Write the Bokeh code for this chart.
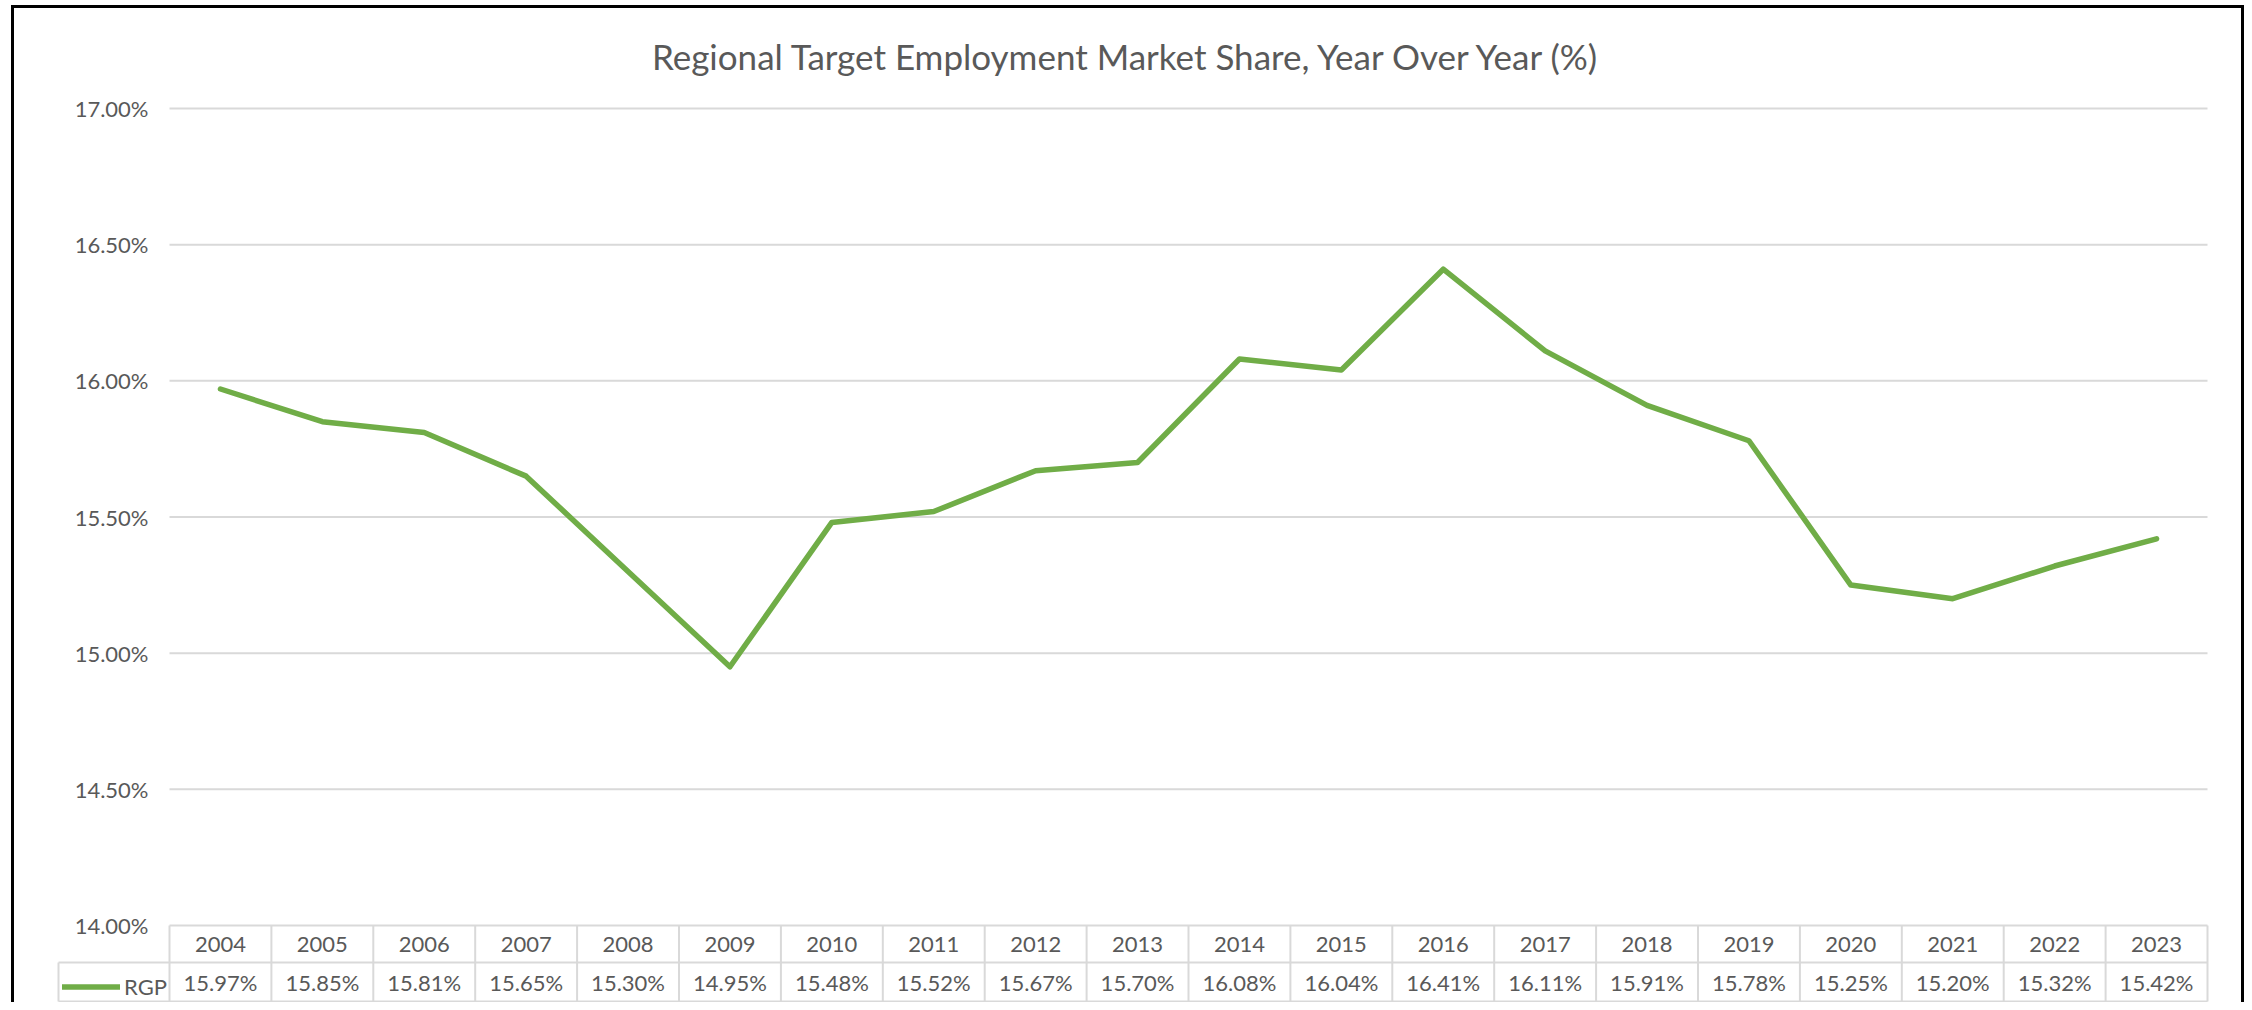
from bokeh.plotting import figure
from bokeh.models import (Range1d, FixedTicker, PrintfTickFormatter, Legend, LegendItem,
                          ColumnDataSource)
from bokeh.embed import file_html
from bokeh.resources import INLINE
from bokeh.core.properties import value

# ---------------- data ----------------
years = ["2004", "2005", "2006", "2007", "2008", "2009", "2010", "2011", "2012", "2013",
         "2014", "2015", "2016", "2017", "2018", "2019", "2020", "2021", "2022", "2023"]
rgp = [15.97, 15.85, 15.81, 15.65, 15.30, 14.95, 15.48, 15.52, 15.67, 15.70,
       16.08, 16.04, 16.41, 16.11, 15.91, 15.78, 15.25, 15.20, 15.32, 15.42]
y_ticks = [14.0, 14.5, 15.0, 15.5, 16.0, 16.5, 17.0]
series_name = "RGP"
title_text = "Regional Target Employment Market Share, Year Over Year (%)"

# ---------------- styling / layout (page pixels) ----------------
FONT = "Lato"
TXT = "#595959"
GRID = "#D9D9D9"
GREEN = "#70AD47"
LBL_SIZE = "22px"
W, H = 2244, 1002
ORIG_X, ORIG_Y = 0, 0                # canvas origin on the page
PLOT_L, PLOT_R = 169, 2207           # plot area left / right
TOP_PX, BOT_PX = 108, 925            # pixel rows of the top / bottom tick
n = len(years)
col_px = (PLOT_R - PLOT_L) / n
PX = (BOT_PX - TOP_PX) / (y_ticks[-1] - y_ticks[0])


def X(px):
    return (px - PLOT_L) / col_px


def Y(py):
    return y_ticks[-1] - (py - TOP_PX) / PX


x_start, x_end = X(ORIG_X), X(ORIG_X + W)
y_start, y_end = Y(ORIG_Y + H), Y(ORIG_Y)

p = figure(width=W, height=H, output_backend="svg", toolbar_location=None,
           x_range=Range1d(x_start, x_end), y_range=Range1d(y_start, y_end),
           x_axis_location=None, min_border=0,
           background_fill_color="white", border_fill_color="white")
p.outline_line_color = None
p.xgrid.visible = False
p.ygrid.visible = False

# y axis drawn at the plot-area edge
ax = p.yaxis[0]
ax.fixed_location = 0
ax.ticker = FixedTicker(ticks=y_ticks)
ax.formatter = PrintfTickFormatter(format="%.2f%%")
ax.axis_line_color = None
ax.major_tick_line_color = None
ax.minor_tick_line_color = None
ax.major_tick_out = 0
ax.major_tick_in = 0
ax.major_label_standoff = 21
ax.major_label_text_font = FONT
ax.major_label_text_font_size = LBL_SIZE
ax.major_label_text_color = TXT

# horizontal gridlines across the plot area only
p.segment(x0=[0] * len(y_ticks), x1=[n] * len(y_ticks), y0=y_ticks, y1=y_ticks,
          line_color=GRID, line_width=2)

# ---------------- line ----------------
xs = [i + 0.5 for i in range(n)]
src = ColumnDataSource(dict(x=xs, y=rgp, year=years,
                            lab=[f"{v:.2f}%" for v in rgp]))
line_r = p.line("x", "y", source=src, line_color=GREEN, line_width=5.5,
                line_join="round", line_cap="round")

# ---------------- data table ----------------
y_top_tbl = y_ticks[0]
y_hdr_bot = Y(962)
y_tbl_bot = Y(1001)
p.segment(x0=[X(58), X(58)], x1=[n, n], y0=[y_hdr_bot, y_tbl_bot], y1=[y_hdr_bot, y_tbl_bot],
          line_color=GRID, line_width=2)
p.segment(x0=list(range(n + 1)) + [X(58)], x1=list(range(n + 1)) + [X(58)],
          y0=[y_top_tbl] * (n + 1) + [y_hdr_bot], y1=[y_tbl_bot] * (n + 2),
          line_color=GRID, line_width=2)
p.text(x="x", y=(y_top_tbl + y_hdr_bot) / 2, text="year", source=src,
       text_align="center", text_baseline="middle", text_font=value(FONT),
       text_font_size=LBL_SIZE, text_color=TXT)
p.text(x="x", y=(y_hdr_bot + y_tbl_bot) / 2, text="lab", source=src,
       text_align="center", text_baseline="middle", text_font=value(FONT),
       text_font_size=LBL_SIZE, text_color=TXT)

legend = Legend(items=[LegendItem(label=series_name, renderers=[line_r])],
                location=(62 - ORIG_X, ORIG_Y + H - 1001), glyph_width=58, glyph_height=29,
                label_height=29, label_standoff=4, padding=5, margin=0, spacing=0,
                border_line_color=None, background_fill_alpha=0,
                label_text_font=FONT, label_text_font_size=LBL_SIZE, label_text_color=TXT)
p.add_layout(legend, "center")

# ---------------- title ----------------
p.text(x=[X(1127)], y=[Y(55)], text=[title_text], text_align="center",
       text_baseline="middle", text_font=value(FONT), text_font_size="35px",
       text_color=TXT)

# ---------------- chart border ----------------
bl, br, bt, bb = X(12), X(2242), Y(6), Y(ORIG_Y + H + 20)
p.multi_line(xs=[[bl, bl, br, br]], ys=[[bb, bt, bt, bb]], line_color="black",
             line_width=3, line_join="miter")

open("out.html", "w").write(file_html(p, INLINE))
